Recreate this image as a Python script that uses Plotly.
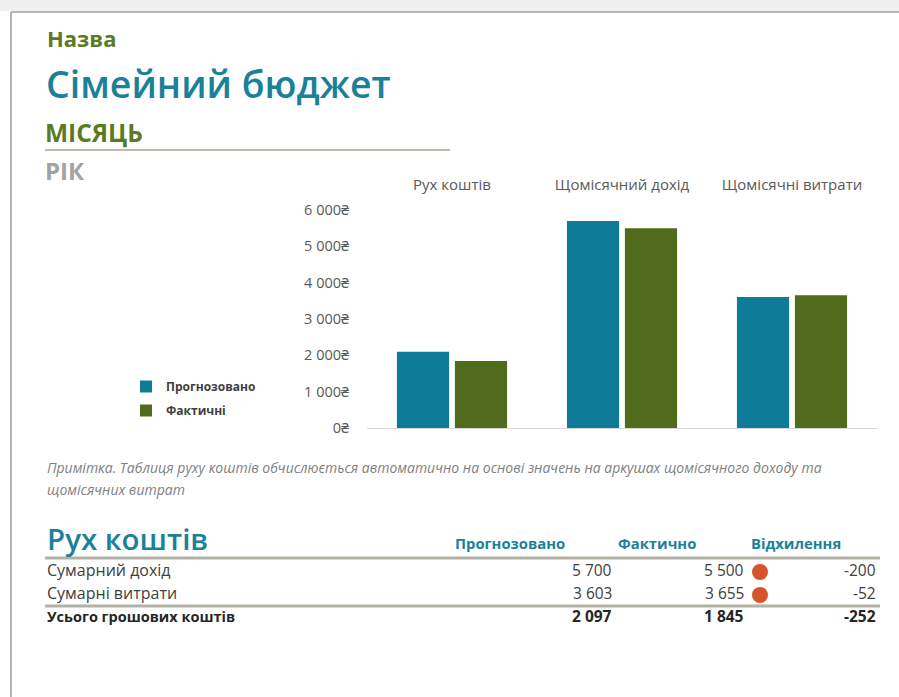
import plotly.graph_objects as go

W, H = 899, 697

# ---- data ----
categories = ["Рух коштів", "Щомісячний дохід", "Щомісячні витрати"]
forecast = [2097, 5700, 3603]
actual = [1845, 5500, 3655]
series_names = ["Прогнозовано", "Фактичні"]
y_ticks = [0, 1000, 2000, 3000, 4000, 5000, 6000]
table_rows = ["Сумарний дохід", "Сумарні витрати", "Усього грошових коштів"]
table_headers = ["Прогнозовано", "Фактично", "Відхилення"]

BLUE = "#0e7c99"
GREEN = "#4f6b1b"
TEAL = "#1a8199"
OLIVE = "#5b7a25"
FONT = "Open Sans, Noto Sans, sans-serif"


def px(x):
    return x / W


def py(y):
    return 1 - y / H


def fmt(v):
    return f"{v:,}".replace(",", " ")


fig = go.Figure()
fig.add_trace(go.Bar(x=categories, y=forecast, name=series_names[0],
                     marker=dict(color=BLUE, line=dict(width=0)), legendgroup="a"))
fig.add_trace(go.Bar(x=categories, y=actual, name=series_names[1],
                     marker=dict(color=GREEN, line=dict(width=0)), legendgroup="b"))

ann = []
shapes = []


def text(x, y, s, size, color, weight="normal", italic=False, anchor="left"):
    ann.append(dict(x=px(x), y=py(y), xref="paper", yref="paper", text=s,
                    showarrow=False, xanchor=anchor, yanchor="middle",
                    font=dict(family=FONT, size=size, color=color, weight=weight,
                              style="italic" if italic else "normal")))


def hline(x0, x1, y, color, width):
    shapes.append(dict(type="line", xref="paper", yref="paper",
                       x0=px(x0), x1=px(x1), y0=py(y), y1=py(y),
                       line=dict(color=color, width=width)))


# frame of the screenshot
shapes.append(dict(type="rect", xref="paper", yref="paper", x0=0, x1=1,
                   y0=py(11), y1=1, fillcolor="#f0f0f0", line=dict(width=0), layer="below"))
hline(11, W, 12, "#b4b4b4", 2)
shapes.append(dict(type="line", xref="paper", yref="paper", x0=px(11), x1=px(11),
                   y0=0, y1=py(12), line=dict(color="#b4b4b4", width=2)))

# header texts
text(45, 38, "Назва", 22, OLIVE, weight="bold")
text(44, 84, "Сімейний бюджет", 37.5, TEAL, weight=600)
text(43, 132, "МІСЯЦЬ", 24.5, OLIVE, weight="bold")
hline(45, 450, 150, "#bdbab0", 2)
text(43, 170, "РІК", 24, "#a2a2a2", weight="bold")

# note
text(45, 467, "Примітка. Таблиця руху коштів обчислюється автоматично на основі значень на аркушах щомісячного доходу та",
     14, "#7f7f7f", italic=True)
text(45, 489, "щомісячних витрат", 14, "#7f7f7f", italic=True)

# table
text(45, 538, "Рух коштів", 29.5, TEAL, weight=600)
header_x = [510, 657, 796]
for hx, h in zip(header_x, table_headers):
    text(hx, 543, h, 14.8, TEAL, weight="bold", anchor="center")
hline(45, 880, 558, "#b3b0a6", 3)
hline(45, 880, 606, "#b3b0a6", 3)

inc_f, inc_a = forecast[1], actual[1]
exp_f, exp_a = forecast[2], actual[2]
rows = [
    (table_rows[0], inc_f, inc_a, inc_a - inc_f, 570, False),
    (table_rows[1], exp_f, exp_a, exp_f - exp_a, 593, False),
    (table_rows[2], inc_f - exp_f, inc_a - exp_a, (inc_a - exp_a) - (inc_f - exp_f), 616, True),
]
for label, f, a, d, y, bold in rows:
    col = "#262626" if bold else "#404040"
    w = "bold" if bold else "normal"
    text(45, y, label, 14.5 if bold else 16, col, weight=w)
    text(614, y, fmt(f), 15.5, col, weight=w, anchor="right")
    text(746, y, fmt(a), 15.5, col, weight=w, anchor="right")
    text(878, y, fmt(d), 15.5, col, weight=w, anchor="right")
    if not bold:
        shapes.append(dict(type="circle", xref="paper", yref="paper",
                           x0=px(752), x1=px(768), y0=py(y + 10), y1=py(y - 6),
                           fillcolor="#d6542a", line=dict(width=0)))

fig.update_layout(
    width=W, height=H,
    margin=dict(l=0, r=0, t=0, b=0, pad=0),
    paper_bgcolor="white", plot_bgcolor="white",
    barmode="group", bargap=0.318, bargroupgap=0.1,
    font=dict(family=FONT, color="#595959"),
    showlegend=True,
    legend=dict(x=px(126), y=py(372), xanchor="left", yanchor="top",
                font=dict(size=12, color="#404040", weight="bold"),
                tracegroupgap=5, bgcolor="rgba(0,0,0,0)", itemwidth=30),
    xaxis=dict(domain=[px(367), px(877)], side="top", showline=False, showgrid=False,
               ticks="", tickfont=dict(size=15, color="#595959"), ticklabelstandoff=16,
               automargin=False, fixedrange=True),
    yaxis=dict(domain=[py(428), py(210)], range=[0, 6000], tickmode="array",
               tickvals=y_ticks, ticktext=[fmt(v) + "₴" for v in y_ticks],
               showgrid=False, zeroline=True,
               zerolinecolor="#d9d9d9", zerolinewidth=1, ticks="",
               tickfont=dict(size=14.5, color="#595959"), ticklabelstandoff=17,
               automargin=False, fixedrange=True),
    annotations=ann, shapes=shapes,
)

fig.write_html("out.html")
